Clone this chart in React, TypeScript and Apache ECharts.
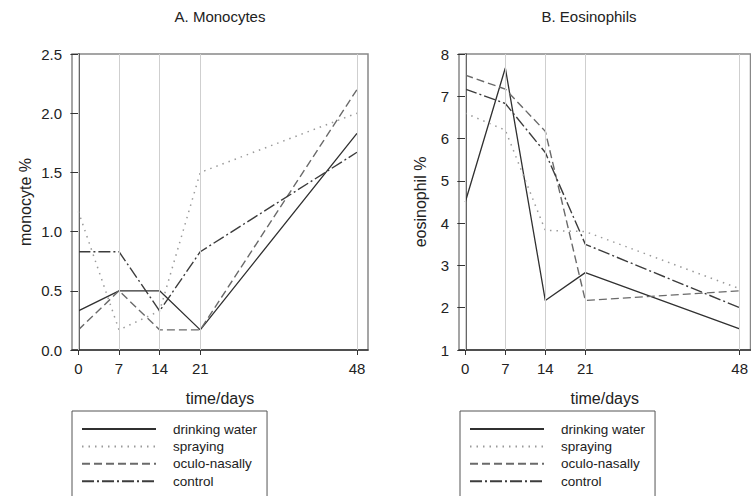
import React, { useEffect, useRef } from "react";
import * as echarts from "echarts";

const days = [0, 7, 14, 21, 48];
const seriesNames = ["drinking water", "spraying", "oculo-nasally", "control"];

const monoDrinking = [0.33, 0.5, 0.5, 0.17, 1.83];
const monoSpraying = [1.17, 0.17, 0.33, 1.5, 2.0];
const monoOculo = [0.17, 0.5, 0.17, 0.17, 2.2];
const monoControl = [0.83, 0.83, 0.33, 0.83, 1.67];

const eosDrinking = [4.5, 7.67, 2.17, 2.83, 1.5];
const eosSpraying = [6.6, 6.2, 3.83, 3.8, 2.45];
const eosOculo = [7.5, 7.17, 6.17, 2.17, 2.4];
const eosControl = [7.17, 6.83, 5.67, 3.5, 2.0];

const panelTitles = ["A. Monocytes", "B. Eosinophils"];
const yNames = ["monocyte %", "eosinophil %"];
const xName = "time/days";

const FONT = "Liberation Sans, Arial, sans-serif";

const lineStyles = [
  { color: "#303030", width: 1.3, type: "solid" },
  { color: "#9a9a9a", width: 1.5, type: [1.5, 5] },
  { color: "#6a6a6a", width: 1.4, type: [8, 4] },
  { color: "#3c3c3c", width: 1.4, type: [12, 3, 2, 3] },
];

export default function App() {
  const ref = useRef<HTMLDivElement>(null);
  useEffect(() => {
    if (!ref.current) return;
    const chart = echarts.init(ref.current, null, { renderer: "svg" });
    const pair = (ys: number[]) => days.map((d, i) => [d, ys[i]]);
    const mono = [monoDrinking, monoSpraying, monoOculo, monoControl];
    const eos = [eosDrinking, eosSpraying, eosOculo, eosControl];

    const xAxisBase = (gridIndex: number) => ({
      type: "value",
      gridIndex,
      min: -1.1,
      max: 49.9,
      name: xName,
      nameLocation: "middle",
      nameGap: 40,
      nameTextStyle: { fontFamily: FONT, fontSize: 16, color: "#222" },
      axisLine: { show: true, onZero: false, lineStyle: { color: "#333", width: 1.5 } },
      axisTick: { show: true, customValues: days, length: 5, lineStyle: { color: "#333" } },
      axisLabel: { customValues: days, margin: 11, fontFamily: FONT, fontSize: 15, color: "#222" },
      splitLine: { show: false },
    });

    const gridLines = (gridIndex: number, ys: number[]) => ({
      type: "line",
      name: "_grid" + gridIndex,
      xAxisIndex: gridIndex,
      yAxisIndex: gridIndex,
      data: pair(ys),
      symbol: "none",
      silent: true,
      z: 1,
      lineStyle: { opacity: 0 },
      markLine: {
        silent: true,
        symbol: ["none", "none"],
        label: { show: false },
        lineStyle: { color: "#cfcfcf", width: 1, type: "solid" },
        data: days.map((d) => ({ xAxis: d })),
      },
    });

    const dataSeries = (gridIndex: number, arrs: number[][]) =>
      arrs.map((ys, i) => ({
        type: "line",
        name: seriesNames[i],
        xAxisIndex: gridIndex,
        yAxisIndex: gridIndex,
        data: pair(ys),
        symbol: "none",
        showSymbol: false,
        z: 3,
        lineStyle: lineStyles[i],
        itemStyle: { color: lineStyles[i].color },
      }));

    const legendBase = (left: number) => ({
      data: seriesNames,
      orient: "vertical",
      left,
      top: 411,
      height: 140,
      padding: [11, 10, 12, 9],
      itemWidth: 74,
      itemHeight: 14,
      itemGap: 3.4,
      borderColor: "#555",
      borderWidth: 1,
      selectedMode: false,
      itemStyle: { opacity: 0 },
      textStyle: { fontFamily: FONT, fontSize: 13.5, color: "#222", padding: [0, 0, 0, 12] },
    });

    chart.setOption({
      animation: false,
      backgroundColor: "#fff",
      graphic: [
        {
          type: "text",
          x: 220,
          y: 16,
          style: { text: panelTitles[0], textAlign: "center", textVerticalAlign: "middle", font: "15px " + FONT, fill: "#222" },
        },
        {
          type: "text",
          x: 589,
          y: 16,
          style: { text: panelTitles[1], textAlign: "center", textVerticalAlign: "middle", font: "15px " + FONT, fill: "#222" },
        },
      ],
      grid: [
        { left: 72, top: 54, width: 296, height: 296, show: true, borderColor: "#888", borderWidth: 1.5, backgroundColor: "transparent" },
        { left: 459, top: 54, width: 297, height: 296, show: true, borderColor: "#888", borderWidth: 1.5, backgroundColor: "transparent" },
      ],
      xAxis: [xAxisBase(0), xAxisBase(1)],
      yAxis: [
        {
          type: "value",
          gridIndex: 0,
          min: 0,
          max: 2.5,
          interval: 0.5,
          name: yNames[0],
          nameLocation: "middle",
          nameGap: 39,
          nameTextStyle: { fontFamily: FONT, fontSize: 16, color: "#222" },
          axisLine: { show: true, lineStyle: { color: "#333", width: 1.5 } },
          axisTick: { show: true, length: 8, lineStyle: { color: "#333" } },
          axisLabel: { margin: 10, fontFamily: FONT, fontSize: 15, color: "#222", formatter: (v: number) => v.toFixed(1) },
          splitLine: { show: false },
        },
        {
          type: "value",
          gridIndex: 1,
          min: 1,
          max: 8,
          interval: 1,
          name: yNames[1],
          nameLocation: "middle",
          nameGap: 31,
          nameTextStyle: { fontFamily: FONT, fontSize: 16, color: "#222" },
          axisLine: { show: true, lineStyle: { color: "#333", width: 1.5 } },
          axisTick: { show: true, length: 8, lineStyle: { color: "#333" } },
          axisLabel: { margin: 10, fontFamily: FONT, fontSize: 15, color: "#222" },
          splitLine: { show: false },
        },
      ],
      legend: [legendBase(72), legendBase(460)],
      series: [
        gridLines(0, monoDrinking),
        gridLines(1, eosDrinking),
        ...dataSeries(0, mono),
        ...dataSeries(1, eos),
      ],
    });
    return () => chart.dispose();
  }, []);

  return (
    <div style={{ position: "fixed", left: 0, top: 0, width: 751, height: 496, overflow: "hidden", background: "#fff" }}>
      <div ref={ref} style={{ width: 751, height: 496 }} />
    </div>
  );
}
